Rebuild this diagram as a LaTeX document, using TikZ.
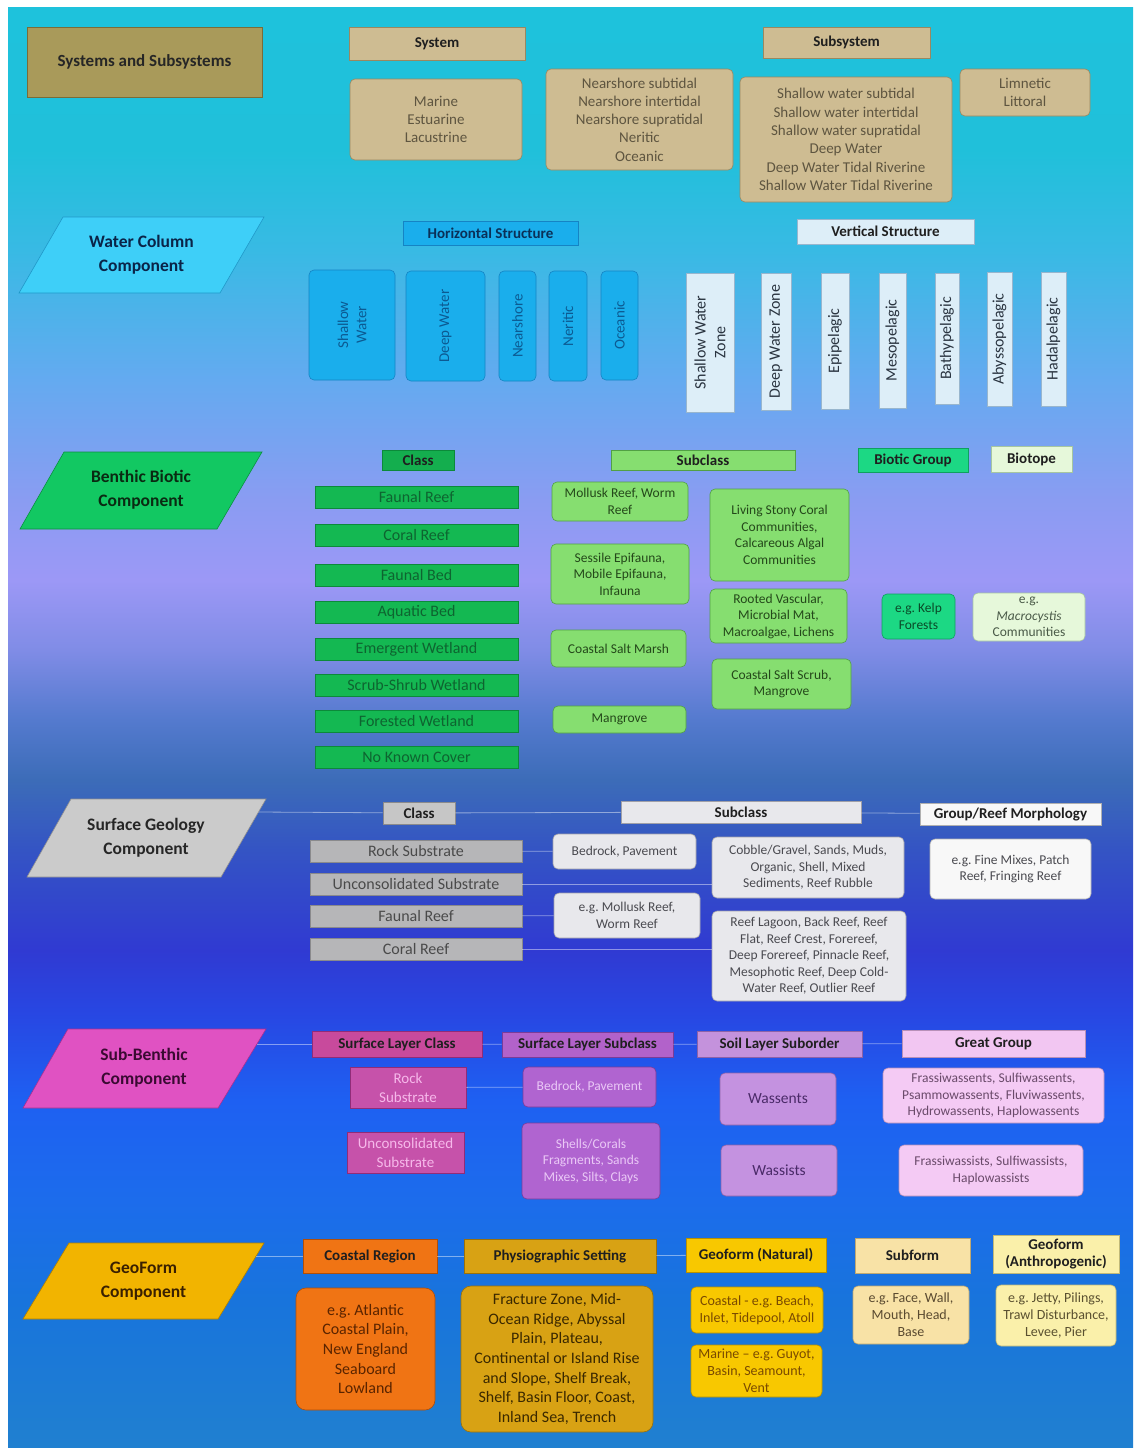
\documentclass[tikz,border=0pt]{standalone}
\usepackage{fontspec}
\setmainfont{Carlito}
\usetikzlibrary{calc}

% background colours (top to bottom)
\definecolor{bgA}{RGB}{32,128,208}
\definecolor{bgB}{RGB}{24,116,220}
\definecolor{bgC}{RGB}{28,108,236}
\definecolor{bgD}{RGB}{30,96,242}
\definecolor{bgE}{RGB}{40,70,226}
\definecolor{bgF}{RGB}{48,58,210}
\definecolor{bgG}{RGB}{52,84,196}
\definecolor{bgH}{RGB}{60,108,184}
\definecolor{bgI}{RGB}{84,122,206}
\definecolor{bgJ}{RGB}{128,140,230}
\definecolor{bgK}{RGB}{156,152,246}
\definecolor{bgL}{RGB}{138,156,242}
\definecolor{bgM}{RGB}{100,170,240}
\definecolor{bgN}{RGB}{56,186,228}
\definecolor{bgO}{RGB}{32,192,218}
\definecolor{bgP}{RGB}{30,194,220}
\pgfdeclareverticalshading{bgshade}{100bp}{color(0bp)=(bgA); color(25bp)=(bgA); color(30.14bp)=(bgB); color(33.6bp)=(bgC); color(37.08bp)=(bgD); color(40.2bp)=(bgE); color(42.28bp)=(bgF); color(45.75bp)=(bgG); color(48.18bp)=(bgH); color(50.26bp)=(bgI); color(52.69bp)=(bgJ); color(55.12bp)=(bgK); color(57.89bp)=(bgL); color(62.06bp)=(bgM); color(66.57bp)=(bgN); color(70.04bp)=(bgO); color(75bp)=(bgP); color(100bp)=(bgP)}

% box colours
\definecolor{cOlive}{HTML}{A99A5A}\definecolor{cOliveD}{HTML}{7A6C38}
\definecolor{cTan}{HTML}{CEBC92}\definecolor{cTanD}{HTML}{9A8860}\definecolor{cTanTx}{HTML}{5E5540}
\definecolor{cWcPara}{HTML}{3ECFF8}\definecolor{cWcParaD}{HTML}{2098C8}\definecolor{cWcTx}{HTML}{0A2448}
\definecolor{cWcH}{HTML}{1AAEEC}\definecolor{cWcHD}{HTML}{1584C4}\definecolor{cWcHTx}{HTML}{0A3058}\definecolor{cWcBTx}{HTML}{0C5A92}
\definecolor{cWcV}{HTML}{DDEEF8}\definecolor{cWcVD}{HTML}{98B6CE}\definecolor{cWcVTx}{HTML}{2A3440}
\definecolor{cBbPara}{HTML}{12C862}\definecolor{cBbParaD}{HTML}{0A9040}\definecolor{cBbTx}{HTML}{0A2A12}
\definecolor{cBbCH}{HTML}{14AE4E}\definecolor{cBbC}{HTML}{14B852}\definecolor{cBbCD}{HTML}{0C8A3A}\definecolor{cBbCTx}{HTML}{0E6430}
\definecolor{cBbS}{HTML}{86DE70}\definecolor{cBbSD}{HTML}{52A044}\definecolor{cBbSTx}{HTML}{24481A}
\definecolor{cBbG}{HTML}{1CD884}\definecolor{cBbGD}{HTML}{10A060}\definecolor{cBbGTx}{HTML}{0A4A28}
\definecolor{cBbT}{HTML}{E6F8DA}\definecolor{cBbTD}{HTML}{A6C6A0}\definecolor{cBbTTx}{HTML}{4A5A48}
\definecolor{cSgPara}{HTML}{CBCBCB}\definecolor{cSgParaD}{HTML}{909090}
\definecolor{cSgCH}{HTML}{C6C6C6}\definecolor{cSgC}{HTML}{B6B6B8}\definecolor{cSgCD}{HTML}{8A8A8C}\definecolor{cSgCTx}{HTML}{4A4A4A}
\definecolor{cSgS}{HTML}{E8E8EC}\definecolor{cSgSD}{HTML}{A0A0A8}\definecolor{cSgSTx}{HTML}{4A4A50}
\definecolor{cSgG}{HTML}{F8F8F8}\definecolor{cSgGD}{HTML}{B0B0B0}
\definecolor{cSbPara}{HTML}{E052C2}\definecolor{cSbParaD}{HTML}{A83090}\definecolor{cSbTx}{HTML}{3A0A32}
\definecolor{cSbCH}{HTML}{C84A9C}\definecolor{cSbC}{HTML}{C652AA}\definecolor{cSbCD}{HTML}{902C78}\definecolor{cSbCTx}{HTML}{F6B8EA}
\definecolor{cSbSH}{HTML}{B262CA}\definecolor{cSbS}{HTML}{B064D0}\definecolor{cSbSD}{HTML}{7A3C98}\definecolor{cSbSTx}{HTML}{EAC8F6}
\definecolor{cSbOH}{HTML}{C492DC}\definecolor{cSbO}{HTML}{C492E0}\definecolor{cSbOD}{HTML}{8C62A8}\definecolor{cSbOTx}{HTML}{4A2A68}
\definecolor{cSbGH}{HTML}{F2C6F2}\definecolor{cSbG}{HTML}{F4CAF4}\definecolor{cSbGD}{HTML}{B890B8}\definecolor{cSbGTx}{HTML}{6A4A6A}
\definecolor{cGfPara}{HTML}{F2B400}\definecolor{cGfParaD}{HTML}{B08000}\definecolor{cGfTx}{HTML}{3A2000}
\definecolor{cGfC}{HTML}{F07414}\definecolor{cGfCD}{HTML}{B04E08}\definecolor{cGfCTx}{HTML}{5A2400}
\definecolor{cGfP}{HTML}{D8A214}\definecolor{cGfPD}{HTML}{9A700A}\definecolor{cGfPTx}{HTML}{3A2800}
\definecolor{cGfN}{HTML}{F8C800}\definecolor{cGfND}{HTML}{B89000}\definecolor{cGfNTx}{HTML}{7A4A00}
\definecolor{cGfF}{HTML}{F8E2A6}\definecolor{cGfFD}{HTML}{C0A870}\definecolor{cGfFTx}{HTML}{5A4A30}
\definecolor{cGfA}{HTML}{FAF0AA}\definecolor{cGfAD}{HTML}{C0B878}\definecolor{cGfATx}{HTML}{5A5030}

\tikzset{
 bx/.style={rectangle, align=center, inner sep=1pt, line width=0.6pt},
 hd/.style={bx, font=\bfseries\fontsize{15}{17}\selectfont, text=black!88},
 tS/.style={bx, font=\fontsize{13.5}{16.5}\selectfont},
 tN/.style={bx, font=\fontsize{14}{17}\selectfont},
 tM/.style={bx, font=\fontsize{15}{18.3}\selectfont},
 tL/.style={bx, font=\fontsize{16}{19.7}\selectfont},
 rnd/.style={rounded corners=5pt},
 comp/.style={align=center, inner sep=0pt, font=\bfseries\fontsize{17.5}{24}\selectfont},
 para/.style={line width=0.6pt},
 conn/.style={draw=white, draw opacity=0.45, line width=0.8pt},
 ssTitle/.style={bx, fill=cOlive, draw=cOliveD, font=\bfseries\fontsize{17}{20}\selectfont, text=black!85},
 sysH/.style={hd, fill=cTan, draw=cTanD},
 sysB/.style={tM, rnd, fill=cTan, draw=cTanD, text=cTanTx},
 wcH/.style={hd, fill=cWcH, draw=cWcHD, text=cWcHTx},
 wcB/.style={tM, rnd, fill=cWcH, draw=cWcHD, text=cWcBTx},
 wcVH/.style={hd, fill=cWcV, draw=cWcVD},
 wcVB/.style={tL, fill=cWcV, draw=cWcVD, text=cWcVTx},
 bbCH/.style={hd, fill=cBbCH, draw=cBbCD},
 bbC/.style={tL, fill=cBbC, draw=cBbCD, text=cBbCTx},
 bbSH/.style={hd, fill=cBbS, draw=cBbSD},
 bbS/.style={tS, rnd, fill=cBbS, draw=cBbSD, text=cBbSTx},
 bbGH/.style={hd, fill=cBbG, draw=cBbGD},
 bbG/.style={tS, rnd, fill=cBbG, draw=cBbGD, text=cBbGTx},
 bbTH/.style={hd, fill=cBbT, draw=cBbTD},
 bbT/.style={tS, rnd, fill=cBbT, draw=cBbTD, text=cBbTTx},
 sgCH/.style={hd, fill=cSgCH, draw=cSgCD},
 sgC/.style={tL, fill=cSgC, draw=cSgCD, text=cSgCTx},
 sgSH/.style={hd, fill=cSgS, draw=cSgSD},
 sgS/.style={tS, rnd, fill=cSgS, draw=cSgSD, text=cSgSTx},
 sgGH/.style={hd, fill=cSgG, draw=cSgGD},
 sgG/.style={tS, rnd, fill=cSgG, draw=cSgGD, text=cSgSTx},
 sbCH/.style={hd, fill=cSbCH, draw=cSbCD},
 sbC/.style={bx, font=\fontsize{15}{19}\selectfont, fill=cSbC, draw=cSbCD, text=cSbCTx},
 sbSH/.style={hd, fill=cSbSH, draw=cSbSD},
 sbS/.style={tS, rnd, fill=cSbS, draw=cSbSD, text=cSbSTx},
 sbOH/.style={hd, fill=cSbOH, draw=cSbOD},
 sbO/.style={bx, rnd, font=\fontsize{15.5}{19}\selectfont, fill=cSbO, draw=cSbOD, text=cSbOTx},
 sbGH/.style={hd, fill=cSbGH, draw=cSbGD},
 sbG/.style={tS, rnd, fill=cSbG, draw=cSbGD, text=cSbGTx},
 gfCH/.style={hd, fill=cGfC, draw=cGfCD},
 gfC/.style={tL, rounded corners=10pt, fill=cGfC, draw=cGfCD, text=cGfCTx},
 gfPH/.style={hd, fill=cGfP, draw=cGfPD},
 gfP/.style={tL, rounded corners=10pt, fill=cGfP, draw=cGfPD, text=cGfPTx},
 gfNH/.style={hd, fill=cGfN, draw=cGfND},
 gfN/.style={tN, rnd, fill=cGfN, draw=cGfND, text=cGfNTx},
 gfFH/.style={hd, fill=cGfF, draw=cGfFD},
 gfF/.style={tN, rnd, fill=cGfF, draw=cGfFD, text=cGfFTx},
 gfAH/.style={hd, fill=cGfA, draw=cGfAD},
 gfA/.style={tN, rnd, fill=cGfA, draw=cGfAD, text=cGfATx},
}

% box from (x1,y1) to (x2,y2), pixel coordinates with y downwards
\newcommand\mybox[7]{\node[#1, minimum width={#5-#3}, minimum height={#6-#4}] (#2) at ({(#3+#5)/2},{(#4+#6)/2}) {#7};}
\newcommand\myvbox[7]{\node[#1, rotate=90, minimum width={#6-#4}, minimum height={#5-#3}] (#2) at ({(#3+#5)/2},{(#4+#6)/2}) {#7};}

\begin{document}
\frenchspacing
\begin{tikzpicture}[x=1pt,y=-1pt]
\useasboundingbox (0,0) rectangle (1133,1448);
\fill[white] (0,0) rectangle (1133,1448);
\shade[shading=bgshade] (8,7) rectangle (1133,1448);

% ---------------- Systems and Subsystems
\mybox{ssTitle}{ssT}{27}{27}{262}{97}{Systems and Subsystems}
\mybox{sysH}{sysA}{349}{27}{525}{60}{System}
\mybox{sysB}{sysM}{350}{79}{522}{160}{Marine\\Estuarine\\Lacustrine}
\mybox{sysH}{subA}{763}{27}{930}{58}{Subsystem}
\mybox{sysB}{subN}{546}{69}{733}{170}{Nearshore subtidal\\Nearshore intertidal\\Nearshore supratidal\\Neritic\\Oceanic}
\mybox{sysB}{subS}{740}{77}{952}{202}{Shallow water subtidal\\Shallow water intertidal\\Shallow water supratidal\\Deep Water\\Deep Water Tidal Riverine\\Shallow Water Tidal Riverine}
\mybox{sysB}{subL}{960}{69}{1090}{116}{Limnetic\\Littoral}

% ---------------- Water Column
\filldraw[para, fill=cWcPara, draw=cWcParaD] (63,217) -- (264,217) -- (220,293) -- (19,293) -- cycle;
\node[comp, text=cWcTx] (wcP) at (141.5,255) {Water Column\\Component};
\mybox{wcH}{wcHS}{403}{221}{578}{245}{Horizontal Structure}
\myvbox{wcB}{wcH1}{309}{270}{395}{380}{Shallow\\Water}
\myvbox{wcB}{wcH2}{406}{271}{485}{381}{Deep Water}
\myvbox{wcB}{wcH3}{499}{271}{536}{381}{Nearshore}
\myvbox{wcB}{wcH4}{549}{271}{587}{381}{Neritic}
\myvbox{wcB}{wcH5}{601}{271}{638}{380}{Oceanic}
\mybox{wcVH}{wcVS}{797}{219}{974}{244}{Vertical Structure}
\myvbox{wcVB}{wcV1}{686}{273}{734}{412}{Shallow Water\\Zone}
\myvbox{wcVB}{wcV2}{761}{273}{791}{410}{Deep Water Zone}
\myvbox{wcVB}{wcV3}{821}{273}{849}{409}{Epipelagic}
\myvbox{wcVB}{wcV4}{879}{273}{906}{408}{Mesopelagic}
\myvbox{wcVB}{wcV5}{935}{273}{959}{404}{Bathypelagic}
\myvbox{wcVB}{wcV6}{987}{272}{1012}{406}{Abyssopelagic}
\myvbox{wcVB}{wcV7}{1041}{272}{1066}{406}{Hadalpelagic}

% ---------------- Benthic Biotic
\filldraw[para, fill=cBbPara, draw=cBbParaD] (64,452) -- (262,452) -- (217,529) -- (20,529) -- cycle;
\node[comp, text=cBbTx] (bbP) at (141,490) {Benthic Biotic\\Component};
\mybox{bbCH}{bbCl}{382}{450}{454}{470}{Class}
\mybox{bbC}{bbC1}{315}{486}{518}{508}{Faunal Reef}
\mybox{bbC}{bbC2}{315}{524}{518}{546}{Coral Reef}
\mybox{bbC}{bbC3}{315}{564}{518}{586}{Faunal Bed}
\mybox{bbC}{bbC4}{315}{601}{518}{623}{Aquatic Bed}
\mybox{bbC}{bbC5}{315}{638}{518}{660}{Emergent Wetland}
\mybox{bbC}{bbC6}{315}{674}{518}{696}{Scrub-Shrub Wetland}
\mybox{bbC}{bbC7}{315}{710}{518}{732}{Forested Wetland}
\mybox{bbC}{bbC8}{315}{746}{518}{768}{No Known Cover}
\mybox{bbSH}{bbSc}{611}{450}{795}{470}{Subclass}
\mybox{bbS}{bbS1}{552}{482}{688}{521}{Mollusk Reef, Worm\\Reef}
\mybox{bbS}{bbS2}{551}{544}{689}{604}{Sessile Epifauna,\\Mobile Epifauna,\\Infauna}
\mybox{bbS}{bbS3}{551}{630}{686}{667}{Coastal Salt Marsh}
\mybox{bbS}{bbS4}{553}{706}{686}{733}{Mangrove}
\mybox{bbS}{bbS5}{710}{489}{849}{581}{Living Stony Coral\\Communities,\\Calcareous Algal\\Communities}
\mybox{bbS}{bbS6}{710}{589}{847}{643}{Rooted Vascular,\\Microbial Mat,\\Macroalgae, Lichens}
\mybox{bbS}{bbS7}{712}{659}{851}{709}{Coastal Salt Scrub,\\Mangrove}
\mybox{bbGH}{bbGr}{858}{448}{968}{472}{Biotic Group}
\mybox{bbG}{bbG1}{882}{594}{955}{639}{e.g. Kelp\\Forests}
\mybox{bbTH}{bbTo}{991}{446}{1072}{472}{Biotope}
\mybox{bbT}{bbT1}{973}{593}{1085}{641}{e.g.\\\textit{Macrocystis}\\Communities}

% ---------------- Surface Geology
\filldraw[para, fill=cSgPara, draw=cSgParaD] (71,799) -- (266,799) -- (221,877) -- (27,877) -- cycle;
\node[comp, text=black!85] (sgP) at (146,838) {Surface Geology\\Component};
\coordinate (sgR) at (258.5,812);
\mybox{sgCH}{sgCl}{383}{802}{455}{824}{Class}
\mybox{sgC}{sgC1}{310}{840}{522}{862}{Rock Substrate}
\mybox{sgC}{sgC2}{310}{873}{522}{895}{Unconsolidated Substrate}
\mybox{sgC}{sgC3}{310}{905}{522}{927}{Faunal Reef}
\mybox{sgC}{sgC4}{310}{938}{522}{960}{Coral Reef}
\mybox{sgSH}{sgSc}{621}{801}{861}{823}{Subclass}
\mybox{sgS}{sgS1}{553}{834}{696}{869}{Bedrock, Pavement}
\mybox{sgS}{sgS2}{554}{893}{700}{938}{e.g. Mollusk Reef,\\Worm Reef}
\mybox{sgS}{sgS3}{712}{837}{904}{898}{Cobble/Gravel, Sands, Muds,\\Organic, Shell, Mixed\\Sediments, Reef Rubble}
\mybox{sgS}{sgS4}{712}{911}{906}{1001}{Reef Lagoon, Back Reef, Reef\\Flat, Reef Crest, Forereef,\\Deep Forereef, Pinnacle Reef,\\Mesophotic Reef, Deep Cold-\\Water Reef, Outlier Reef}
\mybox{sgGH}{sgGr}{920}{803}{1101}{825}{Group/Reef Morphology}
\mybox{sgG}{sgG1}{930}{839}{1091}{899}{e.g. Fine Mixes, Patch\\Reef, Fringing Reef}
\draw[conn] (sgR) -- (sgCl);
\draw[conn] (sgCl) -- (sgSc);
\draw[conn] (sgSc) -- (sgGr);
\draw[conn] (sgC1) -- (sgS1);
\draw[conn] (sgC2.east) -- (sgC2.east -| sgS3.west);
\draw[conn] (sgC3) -- (sgS2);
\draw[conn] (sgC4.east) -- (sgC4.east -| sgS4.west);

% ---------------- Sub-Benthic
\filldraw[para, fill=cSbPara, draw=cSbParaD] (68,1029) -- (266,1029) -- (218,1108) -- (23,1108) -- cycle;
\node[comp, text=cSbTx] (sbP) at (144,1068) {Sub-Benthic\\Component};
\coordinate (sbR) at (257,1044);
\mybox{sbCH}{sbCl}{312}{1031}{482}{1057}{Surface Layer Class}
\mybox{sbC}{sbC1}{350}{1067}{466}{1108}{Rock\\Substrate}
\mybox{sbC}{sbC2}{347}{1132}{464}{1173}{Unconsolidated\\Substrate}
\mybox{sbSH}{sbSc}{502}{1032}{673}{1057}{Surface Layer Subclass}
\mybox{sbS}{sbS1}{523}{1067}{656}{1107}{Bedrock, Pavement}
\mybox{sbS}{sbS2}{522}{1123}{660}{1199}{Shells/Corals\\Fragments, Sands\\Mixes, Silts, Clays}
\mybox{sbOH}{sbSo}{697}{1031}{862}{1057}{Soil Layer Suborder}
\mybox{sbO}{sbO1}{720}{1073}{836}{1125}{Wassents}
\mybox{sbO}{sbO2}{721}{1145}{837}{1196}{Wassists}
\mybox{sbGH}{sbGr}{902}{1030}{1085}{1057}{Great Group}
\mybox{sbG}{sbG1}{883}{1068}{1104}{1123}{Frassiwassents, Sulfiwassents,\\Psammowassents, Fluviwassents,\\Hydrowassents, Haplowassents}
\mybox{sbG}{sbG2}{899}{1145}{1083}{1196}{Frassiwassists, Sulfiwassists,\\Haplowassists}
\draw[conn] (sbR) -- (sbCl);
\draw[conn] (sbCl) -- (sbSc);
\draw[conn] (sbSc) -- (sbSo);
\draw[conn] (sbSo) -- (sbGr);
\draw[conn] (sbC1) -- (sbS1);

% ---------------- GeoForm
\filldraw[para, fill=cGfPara, draw=cGfParaD] (69,1243) -- (264,1243) -- (218,1319) -- (23,1319) -- cycle;
\node[comp, text=cGfTx] (gfPa) at (143.5,1281) {GeoForm\\Component};
\coordinate (gfR) at (256,1256);
\mybox{gfCH}{gfCr}{303}{1239}{437}{1273}{Coastal Region}
\mybox{gfC}{gfC1}{296}{1288}{435}{1410}{e.g. Atlantic\\Coastal Plain,\\New England\\Seaboard\\Lowland}
\mybox{gfPH}{gfPs}{464}{1239}{656}{1273}{Physiographic Setting}
\mybox{gfP}{gfP1}{461}{1286}{653}{1432}{Fracture Zone, Mid-\\Ocean Ridge, Abyssal\\Plain, Plateau,\\Continental or Island Rise\\and Slope, Shelf Break,\\Shelf, Basin Floor, Coast,\\Inland Sea, Trench}
\mybox{gfNH}{gfNa}{686}{1238}{826}{1272}{Geoform (Natural)}
\mybox{gfN}{gfN1}{691}{1287}{823}{1333}{Coastal - e.g. Beach,\\Inlet, Tidepool, Atoll}
\mybox{gfN}{gfN2}{691}{1345}{822}{1397}{Marine -- e.g. Guyot,\\Basin, Seamount,\\Vent}
\mybox{gfFH}{gfSf}{855}{1238}{970}{1273}{Subform}
\mybox{gfF}{gfF1}{853}{1286}{969}{1344}{e.g. Face, Wall,\\Mouth, Head,\\Base}
\mybox{gfAH}{gfAn}{993}{1235}{1119}{1273}{Geoform\\(Anthropogenic)}
\mybox{gfA}{gfA1}{996}{1285}{1116}{1346}{e.g. Jetty, Pilings,\\Trawl Disturbance,\\Levee, Pier}
\draw[conn] (gfR) -- (gfCr);
\draw[conn] (gfCr) -- (gfPs);
\draw[conn] (gfPs) -- (gfNa);
\end{tikzpicture}
\end{document}
